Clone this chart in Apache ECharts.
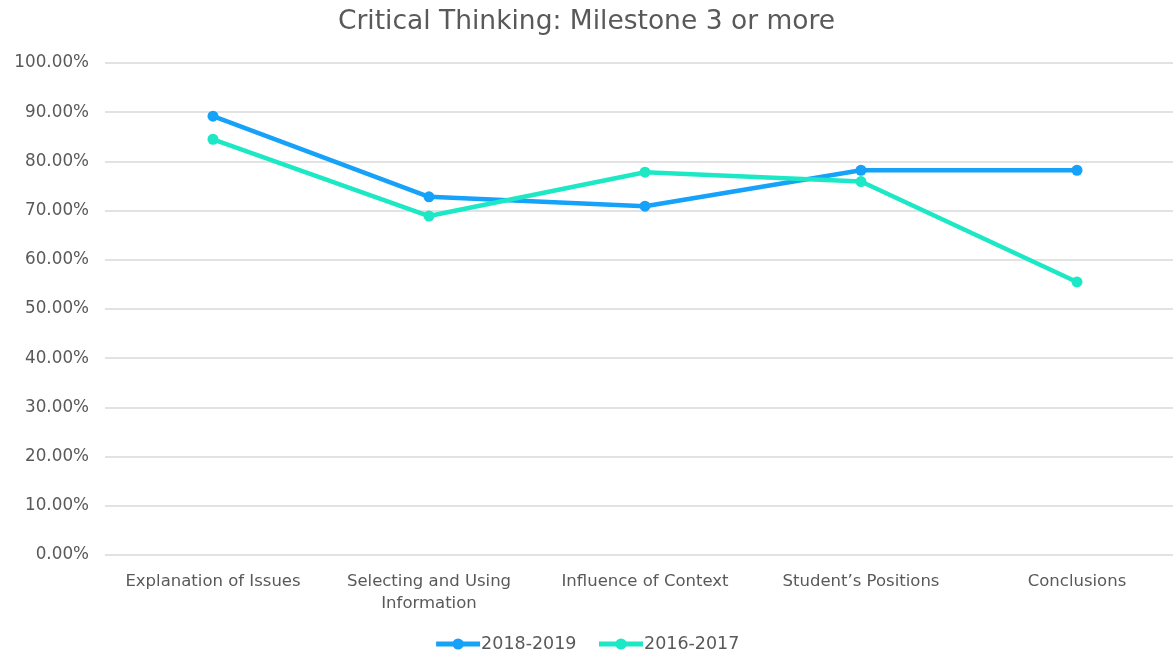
<!DOCTYPE html>
<html>
<head>
<meta charset="utf-8">
<script src="https://cdn.jsdelivr.net/npm/echarts@6/dist/echarts.min.js"></script>
<style>html,body{margin:0;padding:0;background:#fff}#c{width:1173px;height:655px}</style>
</head>
<body>
<div id="c"></div>
<script>
const categories = ['Explanation of Issues', 'Selecting and Using\nInformation', 'Influence of Context', 'Student\u2019s Positions', 'Conclusions'];
const series2018 = [0.892, 0.728, 0.709, 0.782, 0.782];
const series2016 = [0.845, 0.689, 0.778, 0.759, 0.555];
const seriesNames = ['2018-2019', '2016-2017'];
const colors = ['#17a2fa', '#1de8c6'];

const chart = echarts.init(document.getElementById('c'));
const font = '"DejaVu Sans", "Liberation Sans", Arial, sans-serif';
chart.setOption({
  animation: false,
  textStyle: { fontFamily: font },
  title: {
    text: 'Critical Thinking: Milestone 3 or more',
    left: 'center', top: 4,
    textStyle: { fontFamily: font, fontSize: 26.5, fontWeight: 'normal', color: '#595959' }
  },
  legend: {
    bottom: -3, left: 'center',
    itemWidth: 44, itemHeight: 14, itemGap: 20,
    lineStyle: { width: 5 },
    textStyle: { fontFamily: font, fontSize: 17.5, color: '#595959', padding: [0, 0, 0, -4] },
    data: seriesNames
  },
  grid: { left: 105, top: 63, width: 1080, height: 492, outerBoundsMode: 'none', containLabel: false },
  xAxis: {
    type: 'category', data: categories, boundaryGap: true,
    axisLine: { show: false }, axisTick: { show: false },
    axisLabel: { fontFamily: font, fontSize: 16.5, color: '#595959', margin: 16, lineHeight: 22, interval: 0 }
  },
  yAxis: {
    type: 'value', min: 0, max: 1, interval: 0.1,
    axisLine: { show: false }, axisTick: { show: false },
    axisLabel: { fontFamily: font, fontSize: 16.8, color: '#595959', margin: 16,
      formatter: v => (v * 100).toFixed(2) + '%' },
    splitLine: { lineStyle: { color: '#d9d9d9', width: 1.5 } }
  },
  series: [
    { name: seriesNames[0], type: 'line', data: series2018, color: colors[0],
      symbol: 'circle', symbolSize: 11, lineStyle: { width: 4.5 } },
    { name: seriesNames[1], type: 'line', data: series2016, color: colors[1],
      symbol: 'circle', symbolSize: 11, lineStyle: { width: 4.5 } }
  ]
});
</script>
</body>
</html>
